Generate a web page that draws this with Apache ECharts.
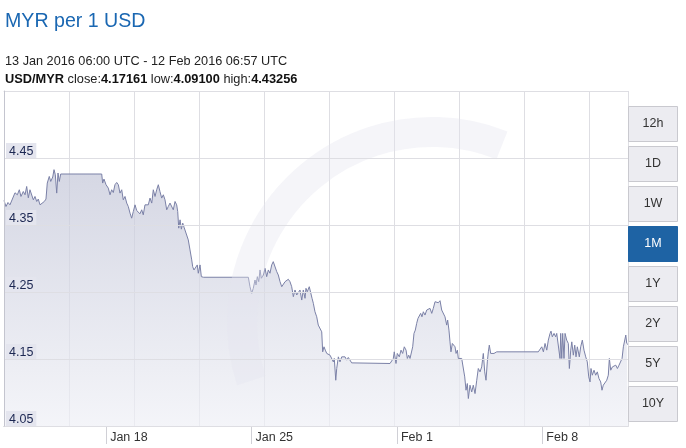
<!DOCTYPE html>
<html>
<head>
<meta charset="utf-8">
<script src="https://cdn.jsdelivr.net/npm/echarts@6/dist/echarts.min.js"></script>
<style>
html,body{margin:0;padding:0;background:#fff;}
#chart{width:686px;height:448px;}
</style>
</head>
<body>
<div id="chart"></div>
<script>
// ---- data ----
const rangeStart = '2016-01-13T06:00:00Z';
const rangeEnd = '2016-02-12T06:57:00Z';
const closeRate = '4.17161';
const lowRate = '4.09100';
const highRate = '4.43256';
// hours since 13 Jan 2016 06:00 UTC
const hours = [
0.0,2.3,4.6,6.9,12.7,15.4,17.7,19.6,22.3,24.3,26.2,28.1,30.0,32.0,33.9,35.8,37.8,39.6,41.6,43.6,
46.6,48.5,50.0,52.3,54.0,56.3,57.8,59.3,60.9,62.4,63.9,65.5,112.9,114.0,115.5,117.9,120.5,122.5,124.4,126.3,
128.2,130.2,132.1,134.0,136.0,137.8,139.8,141.8,143.6,145.6,147.5,149.4,151.4,153.3,155.2,157.1,159.1,160.9,162.9,164.9,
166.7,168.7,170.7,172.5,174.5,176.4,178.3,180.2,182.2,184.1,186.0,188.0,189.8,191.8,193.8,195.6,197.6,199.5,200.7,201.9,
203.4,204.9,206.5,208.0,212.9,214.9,216.9,218.0,219.5,220.7,221.8,223.3,224.5,226.5,228.0,229.6,230.5,282.3,284.2,286.2,
288.0,290.0,291.2,292.7,294.3,295.8,297.3,299.6,301.6,303.5,305.4,307.3,309.3,311.1,313.1,315.1,316.9,318.9,320.9,322.7,
324.7,326.6,328.5,330.4,332.4,334.3,336.2,338.2,340.0,342.0,344.0,345.8,347.8,348.9,350.4,352.7,354.4,355.9,357.4,359.3,
361.3,363.1,365.1,367.1,368.2,369.7,371.2,372.9,374.7,376.7,378.6,380.5,381.6,383.3,384.4,386.3,388.2,390.2,392.0,394.0,
396.0,397.8,399.8,401.7,446.0,447.9,449.8,450.9,452.9,454.4,456.7,458.7,460.6,462.5,464.5,466.0,467.6,469.1,471.1,472.2,
473.7,475.2,476.8,478.3,479.8,481.4,482.9,484.5,486.4,488.4,490.2,492.2,494.2,496.0,498.0,500.0,501.8,503.8,505.7,507.6,
509.5,511.5,512.6,514.1,515.3,516.4,518.0,519.9,521.1,522.3,523.8,524.9,526.9,528.8,530.7,532.3,533.8,535.3,536.5,538.4,
540.4,542.2,544.2,546.2,548.0,550.0,551.9,553.8,555.4,556.9,558.4,559.6,560.7,562.3,563.8,566.1,569.3,617.3,619.3,621.3,
623.2,625.1,627.1,628.9,630.9,632.0,633.5,635.5,637.4,638.6,640.4,642.4,643.2,644.4,645.5,647.0,648.2,650.1,652.0,653.2,
654.8,656.0,657.8,659.4,660.9,662.4,664.7,666.3,668.2,670.1,672.1,673.9,675.6,677.1,678.2,679.7,681.7,683.6,685.5,687.4,
689.4,690.9,692.4,694.4,696.4,698.2,699.4,701.0,702.9,704.9,706.8,708.7,710.6,712.6,714.1,715.6,717.2,718.4,719.5,720.9
];
const rates = [
4.3866,4.3776,4.3836,4.3801,4.3981,4.3951,4.4026,4.3926,4.4000,4.3951,4.4075,4.3906,4.4026,4.4051,4.3876,4.3926,4.3851,4.3887,4.3801,4.3827,
4.3851,4.3887,4.4126,4.4225,4.4150,4.4216,4.4326,4.4250,4.3976,4.4276,4.4150,4.4261,4.4261,4.4126,4.4186,4.4101,4.4051,4.3951,4.4026,4.3985,
4.4101,4.4135,4.4101,4.3976,4.4026,4.3876,4.3926,4.3827,4.3776,4.3677,4.3602,4.3701,4.3801,4.3716,4.3737,4.3667,4.3727,4.3652,4.3801,4.3776,
4.3801,4.3902,4.3827,4.4026,4.3926,4.4026,4.4101,4.4000,4.3902,4.3951,4.3876,4.3727,4.3776,4.3827,4.3851,4.3727,4.3851,4.3801,4.3701,4.3453,
4.3577,4.3438,4.3528,4.3468,4.3278,4.3128,4.2979,4.2878,4.2829,4.2854,4.2804,4.2904,4.2780,4.2904,4.2729,4.2705,4.2720,4.2720,4.2579,4.2480,
4.2555,4.2679,4.2605,4.2729,4.2654,4.2829,4.2705,4.2754,4.2854,4.2729,4.2829,4.2780,4.2904,4.2953,4.2929,4.2804,4.2754,4.2654,4.2579,4.2555,
4.2654,4.2630,4.2690,4.2654,4.2579,4.2430,4.2530,4.2455,4.2480,4.2530,4.2380,4.2530,4.2406,4.2555,4.2504,4.2579,4.2555,4.2406,4.2331,4.2205,
4.2130,4.2006,4.1981,4.1906,4.1607,4.1682,4.1632,4.1583,4.1607,4.1557,4.1583,4.1457,4.1508,4.1183,4.1358,4.1532,4.1457,4.1532,4.1508,4.1532,
4.1483,4.1523,4.1508,4.1442,4.1433,4.1408,4.1508,4.1607,4.1433,4.1583,4.1532,4.1632,4.1583,4.1682,4.1632,4.1508,4.1557,4.1508,4.1532,4.1682,
4.1882,4.1931,4.2032,4.2106,4.2081,4.2181,4.2130,4.2205,4.2156,4.2231,4.2205,4.2256,4.2181,4.2256,4.2355,4.2380,4.2340,4.2370,4.2231,4.2205,
4.2130,4.2006,4.2081,4.1931,4.1756,4.1607,4.1732,4.1756,4.1682,4.1583,4.1632,4.1508,4.1483,4.1508,4.1483,4.1233,4.1034,4.1134,4.0910,4.1109,
4.1008,4.1109,4.0984,4.1183,4.1358,4.1308,4.1382,4.1583,4.1308,4.1183,4.1457,4.1607,4.1707,4.1583,4.1607,4.1583,4.1607,4.1607,4.1592,4.1682,
4.1607,4.1732,4.1632,4.1782,4.1882,4.1916,4.1831,4.1882,4.1831,4.1882,4.1882,4.1508,4.1882,4.1508,4.1882,4.1508,4.1882,4.1782,4.1732,4.1358,
4.1632,4.1756,4.1557,4.1707,4.1532,4.1682,4.1532,4.1682,4.1782,4.1632,4.1532,4.1457,4.1233,4.1158,4.1358,4.1258,4.1333,4.1258,4.1308,4.1209,
4.1158,4.1034,4.1109,4.1083,4.1183,4.1258,4.1508,4.1333,4.1382,4.1358,4.1408,4.1358,4.1408,4.1382,4.1508,4.1682,4.1658,4.1857,4.1733,4.1716
];
const xTickTimes = ['2016-01-18T04:00:00Z','2016-01-25T04:00:00Z','2016-02-01T04:00:00Z','2016-02-08T04:00:00Z'];
const xTickLabels = ['Jan 18','Jan 25','Feb 1','Feb 8'];
const yTicks = [4.05,4.15,4.25,4.35,4.45,4.55];
const yLabelTicks = [4.05,4.15,4.25,4.35,4.45];
const rangeButtons = ['12h','1D','1W','1M','1Y','2Y','5Y','10Y'];
const activeButton = '1M';

// ---- build ----
const t0 = Date.parse(rangeStart);
const t1 = Date.parse(rangeEnd);
const seriesData = hours.map((h, i) => [t0 + h * 3600000, rates[i]]);
const xTickMs = xTickTimes.map(s => Date.parse(s));
const FONT = 'Liberation Sans, Arial, sans-serif';

const PLOT_LEFT = 4, PLOT_TOP = 91, PLOT_RIGHT = 628, PLOT_BOTTOM = 426;
const plotWidthPx = PLOT_RIGHT - PLOT_LEFT;

const buttonGraphics = [];
rangeButtons.forEach((label, i) => {
  const active = label === activeButton;
  const y = 106 + 40 * i;
  buttonGraphics.push({
    type: 'rect', z: 20,
    shape: {x: 628.5, y: y + 0.5, width: 49, height: 35},
    style: {fill: active ? '#1e63a4' : '#ececf1', stroke: active ? '#1e63a4' : '#c9c9cf', lineWidth: 1}
  });
  buttonGraphics.push({
    type: 'text', z: 21,
    x: 653, y: y + 18,
    style: {text: label, fill: active ? '#ffffff' : '#333333', font: '12.5px ' + FONT, align: 'center', verticalAlign: 'middle'}
  });
});

const chart = echarts.init(document.getElementById('chart'), null, {renderer: 'canvas'});
chart.setOption({
  animation: false,
  backgroundColor: '#ffffff',
  title: [
    {text: 'MYR per 1 USD', left: 5, top: 12, padding: 0,
     textStyle: {color: '#1a67b2', fontSize: 19.6, fontWeight: 'normal', fontFamily: FONT}},
    {text: '13 Jan 2016 06:00 UTC - 12 Feb 2016 06:57 UTC', left: 5, top: 55, padding: 0,
     textStyle: {color: '#222222', fontSize: 12.7, fontWeight: 'normal', fontFamily: FONT}},
    {text: '{n|USD/MYR} close:{n|' + closeRate + '} low:{n|' + lowRate + '} high:{n|' + highRate + '}', left: 5, top: 73, padding: 0,
     textStyle: {color: '#222222', fontSize: 12.8, fontWeight: 'normal', fontFamily: FONT,
       rich: {n: {fontWeight: 'bold', fontSize: 12.8, color: '#111111', fontFamily: FONT}}}}
  ],
  grid: {left: PLOT_LEFT, top: PLOT_TOP, right: 686 - PLOT_RIGHT, bottom: 448 - PLOT_BOTTOM, containLabel: false},
  xAxis: [
    {
      type: 'value', min: t0, max: t1, position: 'bottom', scale: true, z: 5,
      axisLine: {show: true, lineStyle: {color: '#b4b5c2', width: 1}},
      axisTick: {show: true, length: 18, customValues: xTickMs, lineStyle: {color: '#d0d0d6'}},
      axisLabel: {customValues: xTickMs, align: 'left', margin: 5, padding: [0, 0, 0, 4],
        color: '#333333', fontSize: 12.5, fontFamily: FONT,
        formatter: (v) => { const i = xTickMs.indexOf(v); return i >= 0 ? xTickLabels[i] : ''; }},
      splitLine: {show: false}
    },
    {
      type: 'value', min: 0, max: plotWidthPx, interval: 65, position: 'top', z: 0,
      axisLine: {show: true, lineStyle: {color: '#dcdce2'}},
      axisTick: {show: false}, axisLabel: {show: false},
      splitLine: {show: true, lineStyle: {color: '#dedee3', width: 1}}
    }
  ],
  yAxis: {
    type: 'value', min: 4.05, max: 4.55, position: 'left', z: 12,
    axisLine: {show: true, lineStyle: {color: '#c4c5cf'}},
    axisTick: {show: false, customValues: yTicks},
    axisLabel: {customValues: yLabelTicks, inside: true, align: 'left', verticalAlign: 'bottom', margin: 2,
      backgroundColor: '#e4e5ee', padding: [2, 3, 0, 3], color: '#1c2752', fontSize: 12.5, fontFamily: FONT,
      formatter: (v) => v.toFixed(2)},
    splitLine: {show: true, lineStyle: {color: '#dedee3', width: 1}}
  },
  graphic: [
    {type: 'arc', z: 10, silent: true,
     shape: {cx: 432, cy: 322, r: 190, startAngle: Math.PI * 0.9, endAngle: Math.PI * 1.62, clockwise: true},
     style: {fill: 'none', stroke: 'rgba(228,229,238,0.38)', lineWidth: 30}}
  ].concat(buttonGraphics),
  series: [{
    type: 'line', xAxisIndex: 0, yAxisIndex: 0,
    data: seriesData, showSymbol: false, symbol: 'none',
    lineStyle: {color: '#7b81a7', width: 1},
    areaStyle: {origin: 'start', color: new echarts.graphic.LinearGradient(0, 0, 0, 1, [
      {offset: 0, color: '#c3c6d8'}, {offset: 1, color: '#eff0f6'}])},
    z: 2
  }]
});
</script>
</body>
</html>
